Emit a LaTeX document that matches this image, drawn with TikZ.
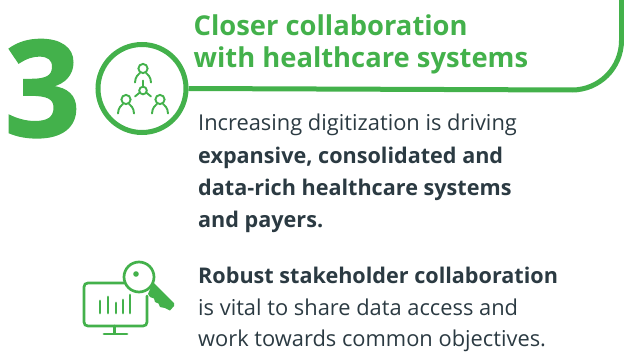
\documentclass[tikz,border=0pt]{standalone}
\usepackage{fontspec}
\setmainfont{Open Sans}
\newfontfamily\heavyfont{Open Sans}[BoldFeatures={FakeBold=1.2}]
\definecolor{grn}{HTML}{43B14B}
\definecolor{ink}{HTML}{2B3A42}
\tikzset{
 x=1pt,y=-1pt,
 head/.style={anchor=base west,inner sep=0pt,text=grn,font=\fontsize{27.35}{30}\selectfont\bfseries},
 body/.style={anchor=base west,inner sep=0pt,text=ink,font=\fontsize{21.85}{26}\selectfont},
 bodyb/.style={anchor=base west,inner sep=0pt,text=ink,font=\fontsize{21.6}{26}\selectfont\bfseries},
 ring/.style={draw=grn,line width=5pt},
 thin/.style={draw=grn,line width=1.9pt,line cap=round},
 icon/.style={draw=grn,line width=2.7pt,line cap=round,line join=round},
}
\newcommand{\person}[2]{%
 \draw[thin] (#1,#2) circle (4.6);
 \draw[thin] (#1-8,#2+14) .. controls (#1-8,#2+8) and (#1-4,#2+5.5) .. (#1-3,#2+4.5);
 \draw[thin] (#1+8,#2+14) .. controls (#1+8,#2+8) and (#1+4,#2+5.5) .. (#1+3,#2+4.5);
}
\begin{document}
\begin{tikzpicture}
\useasboundingbox (0,0) rectangle (624,361);
\node[anchor=base west,inner sep=0pt,text=grn,font=\fontsize{134}{134}\selectfont\heavyfont\bfseries] (three) at (4,136.5) {3};
% ring and frame
\node[circle,ring,minimum size=88pt,inner sep=0pt] (c) at (142,88.5) {};
\coordinate (fstart) at (c.east);
\coordinate (ftop) at (621.5,0);
\draw[ring] (fstart) -- (572,90) arc[start angle=90,end angle=0,radius=49.5] -- (ftop);
% people
\person{143}{68.5}
\person{126}{99.5}
\person{160}{99.5}
\draw[thin] (143,90.5) circle (3.8);
\draw[thin] (143,86.7) -- (143,80.5);
\draw[thin] (139.8,92.5) -- (135,96.5);
\draw[thin] (146.2,92.5) -- (151,96.5);
% headings
\node[head] (h1) at (193.5,36) {Closer collaboration};
\node[head] (h2) at (193.5,68) {with healthcare systems};
% body
\node[body] (b1) at (198,130) {Increasing digitization is driving};
\node[bodyb] (b2) at (198,163) {expansive, consolidated and};
\node[bodyb] (b3) at (198,195) {data-rich healthcare systems};
\node[bodyb] (b4) at (198,227.5) {and payers.};
\node[bodyb] (b5) at (198,283) {Robust stakeholder collaboration};
\node[body] (b6) at (198,315) {is vital to share data access and};
\node[body] (b7) at (198,346.5) {work towards common objectives.};
% key/monitor icon
\draw[icon] (126,283) -- (88,283) .. controls (85.5,283) and (84,284.5) .. (84,287) -- (84,322) .. controls (84,324.5) and (85.5,326) .. (88,326) -- (143,326) .. controls (145.5,326) and (147,324.5) .. (147,322) -- (147,296);
\draw[icon] (114.5,326) -- (114.5,333);
\draw[icon] (104,334) -- (127,334);
\draw[icon] (100,301) -- (100,313);
\draw[icon] (108,297) -- (108,313);
\draw[icon] (116,303) -- (116,313);
\draw[icon] (123,300) -- (123,313);
\draw[icon] (130,295) -- (130,313);
\fill[grn] (153,282) -- (174,303) -- (174,306) -- (170,310.5) -- (165,308) -- (160,307) -- (158.5,303.5) -- (155,302) -- (154,298.5) -- (150,297) -- (148,294) -- cycle;
\fill[white] (139,277) circle (15);
\draw[icon] (139,277) circle (15);
\fill[grn] (136,274) circle (2.8);
\end{tikzpicture}
\end{document}
